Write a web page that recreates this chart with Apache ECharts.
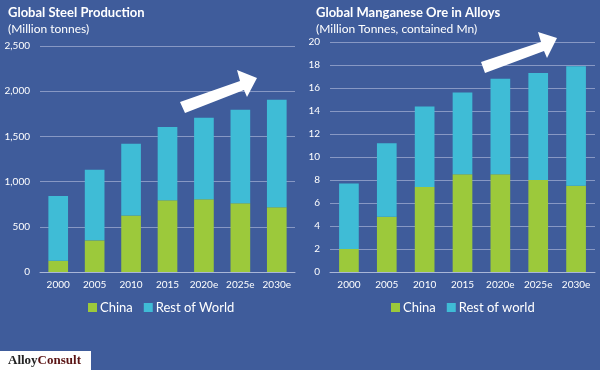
<!DOCTYPE html>
<html><head><meta charset="utf-8">
<script src="https://cdn.jsdelivr.net/npm/echarts@6/dist/echarts.min.js"></script>
<style>html,body{margin:0;padding:0;background:#3f5c9b}#c{width:600px;height:370px}</style>
</head><body><div id="c"></div>
<script>
const categories = ['2000','2005','2010','2015','2020e','2025e','2030e'];
const steelChina = [125, 350, 625, 795, 805, 760, 715];
const steelTotal = [840, 1130, 1420, 1605, 1705, 1795, 1905];
const mnChina = [2.0, 4.8, 7.4, 8.5, 8.5, 8.0, 7.5];
const mnTotal = [7.7, 11.2, 14.4, 15.6, 16.8, 17.3, 17.9];
const steelTicks = {min:0, max:2500, interval:500};
const mnTicks = {min:0, max:20, interval:2};

const steelRest = steelTotal.map((t,i)=>t-steelChina[i]);
const mnRest = mnTotal.map((t,i)=>+(t-mnChina[i]).toFixed(2));

const FONT = 'Lato, "Open Sans", sans-serif';
const GREEN = '#9cc93b', CYAN = '#3fbcd6', GRID = '#8798c4';

const chart = echarts.init(document.getElementById('c'));
const xAxisBase = {
  type:'category', data:categories,
  axisLine:{lineStyle:{color:'#a9b6d8', width:1}},
  axisTick:{show:false},
  axisLabel:{color:'#fff', fontSize:10, margin:8, fontFamily:FONT, interval:0}
};
const yAxisBase = {
  type:'value',
  axisLine:{show:false}, axisTick:{show:false},
  splitLine:{lineStyle:{color:GRID, width:1}},
  axisLabel:{color:'#fff', fontSize:10, margin:10, fontFamily:FONT}
};
chart.setOption({
  backgroundColor:'#3f5c9b',
  animation:false,
  title:[
    {text:'Global Steel Production', subtext:'(Million tonnes)', left:3, top:1, itemGap:4,
     textStyle:{color:'#fff', fontSize:13, fontWeight:'bold', fontFamily:FONT},
     subtextStyle:{color:'#fff', fontSize:12, fontFamily:FONT}},
    {text:'Global Manganese Ore in Alloys', subtext:'(Million Tonnes, contained Mn)', left:311, top:1, itemGap:4,
     textStyle:{color:'#fff', fontSize:13, fontWeight:'bold', fontFamily:FONT},
     subtextStyle:{color:'#fff', fontSize:12, fontFamily:FONT}}
  ],
  legend:[
    {data:['China','Rest of World'], left:83, top:296, itemWidth:9, itemHeight:9, itemGap:11, icon:'rect',
     textStyle:{color:'#fff', fontSize:13, fontFamily:FONT, padding:[0,0,0,-2]}},
    {data:['China','Rest of world'], left:386, top:296, itemWidth:9, itemHeight:9, itemGap:11, icon:'rect',
     textStyle:{color:'#fff', fontSize:13, fontFamily:FONT, padding:[0,0,0,-2]}}
  ],
  grid:[
    {left:40, right:305, top:46, bottom:98},
    {left:330, right:5, top:42, bottom:98}
  ],
  xAxis:[
    Object.assign({gridIndex:0}, xAxisBase),
    Object.assign({gridIndex:1}, xAxisBase)
  ],
  yAxis:[
    Object.assign({gridIndex:0}, yAxisBase, steelTicks,
      {axisLabel:Object.assign({}, yAxisBase.axisLabel, {formatter:v=>v.toLocaleString('en-US')})}),
    Object.assign({gridIndex:1}, yAxisBase, mnTicks)
  ],
  series:[
    {name:'China', type:'bar', stack:'s', xAxisIndex:0, yAxisIndex:0, data:steelChina, barWidth:'54%', itemStyle:{color:GREEN}},
    {name:'Rest of World', type:'bar', stack:'s', xAxisIndex:0, yAxisIndex:0, data:steelRest, barWidth:'54%', itemStyle:{color:CYAN}},
    {name:'China', type:'bar', stack:'m', xAxisIndex:1, yAxisIndex:1, data:mnChina, barWidth:'52%', itemStyle:{color:GREEN}},
    {name:'Rest of world', type:'bar', stack:'m', xAxisIndex:1, yAxisIndex:1, data:mnRest, barWidth:'52%', itemStyle:{color:CYAN}}
  ],
  graphic:[
    {type:'polygon', z:100, shape:{points:[[180,102],[240,81],[237,70],[257,78],[247,97],[244,90],[185,113]]}, style:{fill:'#fff'}},
    {type:'polygon', z:100, shape:{points:[[481,62],[541,42],[538,32],[557,38],[547,58],[544,51],[485,73]]}, style:{fill:'#fff'}},
    {type:'rect', z:100, shape:{x:0, y:351, width:91, height:19}, style:{fill:'#fff'}},
    {type:'text', z:101, left:8, top:354, style:{
      text:'{a|Alloy}{b|Consult}',
      rich:{a:{fill:'#222', fontSize:13, fontWeight:'bold', fontFamily:'"Liberation Serif", serif'},
            b:{fill:'#5a1414', fontSize:13, fontWeight:'bold', fontFamily:'"Liberation Serif", serif'}}}}
  ]
});
</script></body></html>
